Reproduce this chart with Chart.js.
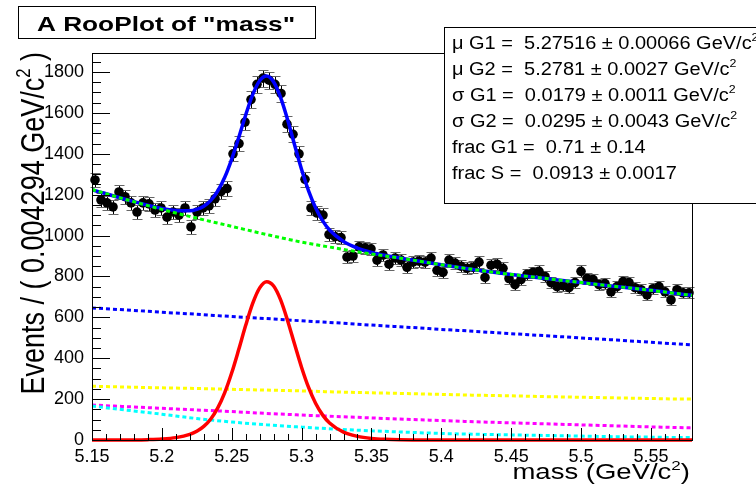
<!DOCTYPE html>
<html>
<head>
<meta charset="utf-8">
<title>A RooPlot of "mass"</title>
<script src="https://cdn.jsdelivr.net/npm/chart.js@4.4.1/dist/chart.umd.min.js"></script>
<style>
    html, body { margin: 0; padding: 0; background: #fff; }
    #wrap { width: 756px; height: 489px; position: relative; }
</style>
</head>
<body>
<div id="wrap"><canvas id="massChart" width="756" height="489"></canvas></div>
<script>
// ==================== DATA ====================

// binning of the "mass" histogram
const massMin = 5.15;
const massMax = 5.5794;
const binWidth = 0.004294;

// events per bin (100 bins)
const counts = [
    1272, 1174, 1160, 1140, 1213, 1190, 1160, 1115, 1160, 1155,
    1125, 1135, 1090, 1115, 1100, 1135, 1042, 1115, 1135, 1145,
    1180, 1215, 1230, 1400, 1450, 1555, 1665, 1740, 1770, 1760,
    1740, 1695, 1545, 1495, 1400, 1275, 1135, 1110, 1100, 1005,
    995, 990, 895, 900, 945, 940, 935, 880, 905, 860,
    890, 880, 845, 870, 875, 870, 890, 830, 820, 880,
    865, 850, 840, 845, 870, 795, 855, 860, 840, 790,
    760, 785, 810, 820, 825, 800, 770, 750, 755, 745,
    770, 825, 790, 785, 760, 765, 725, 750, 775, 770,
    745, 735, 710, 740, 750, 725, 685, 735, 720, 720
];

// total model (blue solid)
const totalMass = [5.15, 5.175, 5.2, 5.21, 5.22, 5.225, 5.23, 5.235, 5.24, 5.245,
    5.25, 5.255, 5.26, 5.265, 5.27, 5.275, 5.28, 5.285, 5.29, 5.295,
    5.3, 5.305, 5.31, 5.315, 5.32, 5.33, 5.34, 5.35, 5.36, 5.37,
    5.38, 5.4, 5.425, 5.45, 5.475, 5.5, 5.525, 5.55, 5.575, 5.5794];
const totalModel = [1225, 1175, 1133, 1123, 1121, 1128, 1143, 1172, 1218, 1285,
    1374, 1479, 1590, 1689, 1757, 1780, 1751, 1675, 1567, 1443,
    1323, 1219, 1136, 1073, 1027, 971, 939, 918, 903, 891,
    879, 857, 832, 810, 790, 770, 751, 732, 711, 708];

// signal component (red solid)
const sigMass = [5.15, 5.18, 5.19, 5.2, 5.21, 5.22, 5.225, 5.23, 5.235, 5.24,
    5.245, 5.25, 5.255, 5.26, 5.265, 5.27, 5.275, 5.28, 5.285, 5.29,
    5.295, 5.3, 5.305, 5.31, 5.315, 5.32, 5.33, 5.34, 5.35, 5.36,
    5.37, 5.38, 5.4, 5.5794];
const sigModel = [0, 0.6, 1.8, 4.7, 11.6, 27.5, 42.7, 66.4, 102.9, 156.8,
    231.9, 328.6, 442.1, 560.9, 667.9, 744, 774.6, 753, 685, 583.6,
    467.8, 354.9, 257, 179.7, 122.9, 83.3, 38.5, 17.9, 7.9, 3.3,
    1.2, 0.4, 0, 0];

// background components (dotted)
const bkgMass = [5.15, 5.175, 5.2, 5.225, 5.25, 5.275, 5.3, 5.325, 5.35, 5.375,
    5.4, 5.425, 5.45, 5.475, 5.5, 5.525, 5.55, 5.575, 5.5794];
const bkgTotal = [1225, 1175, 1128, 1085, 1045, 1005, 968, 938, 910, 885,
    857, 832, 810, 790, 770, 751, 732, 711, 708];
const bkgBlue = [646, 636, 625, 615, 604, 594, 583, 573, 562, 552,
    541, 531, 520, 510, 499, 489, 478, 467, 465];
const bkgYellow = [263, 259, 255, 252, 248, 244, 240, 235, 231, 227,
    223, 219, 216, 212, 209, 206, 203, 200, 200];
const bkgMagenta = [171, 163, 155, 147, 139, 130, 122, 115, 108, 101,
    95, 89, 84, 79, 74, 69, 64, 60, 59];
const bkgCyan = [166, 146, 126, 105, 88, 74, 63, 53, 45, 38,
    32, 28, 25, 22, 19, 16, 14, 12, 12];

// axis ticks
const xTicks = [5.15, 5.2, 5.25, 5.3, 5.35, 5.4, 5.45, 5.5, 5.55];
const yTicks = [0, 200, 400, 600, 800, 1000, 1200, 1400, 1600, 1800];
const yMax = 1893;

// fit results box
const paramNames = ['\u03BC G1 = ', '\u03BC G2 = ', '\u03C3 G1 = ', '\u03C3 G2 = ', 'frac G1 = ', 'frac S = '];
const paramValues = ['5.27516', '5.2781', '0.0179', '0.0295', '0.71', '0.0913'];
const paramErrors = ['0.00066', '0.0027', '0.0011', '0.0043', '0.14', '0.0017'];
const paramUnits = [true, true, true, true, false, false];

// ==================== HELPERS ====================

const FONT = "'Liberation Sans', Arial, Helvetica, sans-serif";
const TEXT_STRETCH = 1.25;
const BOX_STRETCH = 1.11;

function toPoints(xs, ys) {
    return xs.map((x, i) => ({ x: x, y: ys[i] }));
}

// draw text pieces, [text, isSuperscript]
function drawRich(ctx, parts, x, y, size, weight, align) {
    let w = 0;
    parts.forEach(p => {
        ctx.font = `${weight} ${p[1] ? size * 0.62 : size}px ${FONT}`;
        w += ctx.measureText(p[0]).width;
    });
    let cx = x;
    if (align === 'right') cx = x - w;
    if (align === 'center') cx = x - w / 2;
    parts.forEach(p => {
        ctx.font = `${weight} ${p[1] ? size * 0.62 : size}px ${FONT}`;
        ctx.fillText(p[0], cx, p[1] ? y - size * 0.42 : y);
        cx += ctx.measureText(p[0]).width;
    });
}

// ==================== ROOT STYLE DECORATION ====================

const rooDeco = {
    id: 'rooDeco',
    beforeDatasetDraw(chart, args) {
        if (args.index !== 7) return;
        const ctx = chart.ctx;
        const xs = chart.scales.x, ys = chart.scales.y;
        ctx.save();
        ctx.lineWidth = 1;
        counts.forEach((n, i) => {
            const px = Math.round(xs.getPixelForValue(massMin + (i + 0.5) * binWidth)) + 0.5;
            const err = Math.sqrt(n);
            const y1 = Math.round(ys.getPixelForValue(n + err)) + 0.5;
            const y2 = Math.round(ys.getPixelForValue(n - err)) + 0.5;
            ctx.strokeStyle = '#000';
            ctx.beginPath();
            ctx.moveTo(px, y1);
            ctx.lineTo(px, y2);
            ctx.stroke();
            ctx.strokeStyle = '#666';
            ctx.beginPath();
            ctx.moveTo(px - 5, y1); ctx.lineTo(px + 5, y1);
            ctx.moveTo(px - 5, y2); ctx.lineTo(px + 5, y2);
            ctx.stroke();
        });
        ctx.restore();
    },
    afterDraw(chart) {
        const ctx = chart.ctx;
        const area = chart.chartArea;
        const xs = chart.scales.x, ys = chart.scales.y;
        ctx.save();

        // frame
        ctx.strokeStyle = '#000';
        ctx.lineWidth = 1;
        ctx.strokeRect(area.left + 0.5, area.top + 0.5, area.right - area.left, area.bottom - area.top);

        // y ticks (inside)
        ctx.beginPath();
        for (let v = 0; v <= yMax; v += 50) {
            const py = Math.round(ys.getPixelForValue(v)) + 0.5;
            const len = v % 200 === 0 ? 18 : 9;
            ctx.moveTo(area.left, py);
            ctx.lineTo(area.left + len, py);
        }
        // x ticks (inside)
        for (let k = 0; k <= 42; k++) {
            const m = massMin + k * 0.01;
            if (m > massMax) break;
            const px = Math.round(xs.getPixelForValue(m)) + 0.5;
            const len = k % 5 === 0 ? 12 : 6;
            ctx.moveTo(px, area.bottom);
            ctx.lineTo(px, area.bottom - len);
        }
        ctx.stroke();

        ctx.fillStyle = '#000';
        ctx.textBaseline = 'alphabetic';

        // x axis title
        ctx.save();
        ctx.translate(690, 479);
        ctx.scale(TEXT_STRETCH, 1);
        drawRich(ctx, [['mass (GeV/c', false], ['2', true], [')', false]], 0, 0, 22, 'normal', 'right');
        ctx.restore();

        // y axis title
        ctx.save();
        ctx.translate(44, 52);
        ctx.scale(TEXT_STRETCH, 1);
        ctx.rotate(-Math.PI / 2);
        drawRich(ctx, [['Events / ( 0.004294 GeV/c', false], ['2', true], [' )', false]], 0, 0, 27, 'normal', 'right');
        ctx.restore();

        // fit results box
        ctx.fillStyle = '#fff';
        ctx.fillRect(444, 27, 320, 176);
        ctx.strokeRect(444.5, 27.5, 320, 176);
        ctx.fillStyle = '#000';
        paramNames.forEach((name, i) => {
            const parts = [[name + ' ' + paramValues[i] + ' \u00B1 ' + paramErrors[i], false]];
            if (paramUnits[i]) parts.push([' GeV/c', false], ['2', true]);
            ctx.save();
            ctx.translate(452, 49 + i * 26);
            ctx.scale(BOX_STRETCH, 1);
            drawRich(ctx, parts, 0, 0, 18, 'normal', 'left');
            ctx.restore();
        });

        // title box
        ctx.fillStyle = '#fff';
        ctx.fillRect(18, 6, 297, 32);
        ctx.strokeRect(18.5, 6.5, 297, 32);
        ctx.fillStyle = '#000';
        ctx.save();
        ctx.translate(166, 31);
        ctx.scale(TEXT_STRETCH, 1);
        drawRich(ctx, [['A RooPlot of "mass"', false]], 0, 0, 21, 'bold', 'center');
        ctx.restore();

        ctx.restore();
    }
};

// ==================== CHART ====================

const dottedLine = (label, xs, ys, color) => ({
    label: label,
    data: toPoints(xs, ys),
    borderColor: color,
    borderWidth: 3,
    borderDash: [4, 3],
    pointRadius: 0,
    cubicInterpolationMode: 'monotone',
    fill: false
});

const ctx = document.getElementById('massChart').getContext('2d');
const chart = new Chart(ctx, {
    type: 'line',
    data: {
        datasets: [
            {
                label: 'signal',
                data: toPoints(sigMass, sigModel),
                borderColor: '#ff0000',
                borderWidth: 3.5,
                pointRadius: 0,
                cubicInterpolationMode: 'monotone',
                clip: false,
                fill: false
            },
            dottedLine('background', bkgMass, bkgTotal, '#00ff00'),
            dottedLine('bkg cyan', bkgMass, bkgCyan, '#00ffff'),
            dottedLine('bkg magenta', bkgMass, bkgMagenta, '#ff00ff'),
            dottedLine('bkg yellow', bkgMass, bkgYellow, '#ffff00'),
            dottedLine('bkg blue', bkgMass, bkgBlue, '#0000ff'),
            {
                label: 'model',
                data: toPoints(totalMass, totalModel),
                borderColor: '#0000ff',
                borderWidth: 3.5,
                pointRadius: 0,
                cubicInterpolationMode: 'monotone',
                fill: false
            },
            {
                label: 'data',
                data: counts.map((n, i) => ({ x: massMin + (i + 0.5) * binWidth, y: n })),
                showLine: false,
                pointRadius: 4.8,
                pointBackgroundColor: '#000',
                pointBorderColor: '#000',
                pointBorderWidth: 0,
                clip: false
            }
        ]
    },
    options: {
        responsive: false,
        animation: false,
        events: [],
        layout: { padding: { top: 53, right: 64, left: 0, bottom: 0 } },
        plugins: {
            legend: { display: false },
            tooltip: { enabled: false }
        },
        scales: {
            x: {
                type: 'linear',
                min: massMin,
                max: massMax,
                grid: { display: false, drawTicks: false },
                border: { display: false },
                afterBuildTicks: s => { s.ticks = xTicks.map(v => ({ value: v })); },
                afterFit: s => { s.height = 49; },
                ticks: {
                    autoSkip: false,
                    maxRotation: 0,
                    padding: 6,
                    color: '#000',
                    font: { family: FONT, size: 18 },
                    callback: v => String(Math.round(v * 100) / 100)
                }
            },
            y: {
                min: 0,
                max: yMax,
                grid: { display: false, drawTicks: false },
                border: { display: false },
                afterBuildTicks: s => { s.ticks = yTicks.map(v => ({ value: v })); },
                afterFit: s => { s.width = 92; },
                ticks: {
                    padding: 8,
                    color: '#000',
                    font: { family: FONT, size: 18 },
                    callback: v => String(v)
                }
            }
        }
    },
    plugins: [rooDeco]
});
</script>
</body>
</html>
